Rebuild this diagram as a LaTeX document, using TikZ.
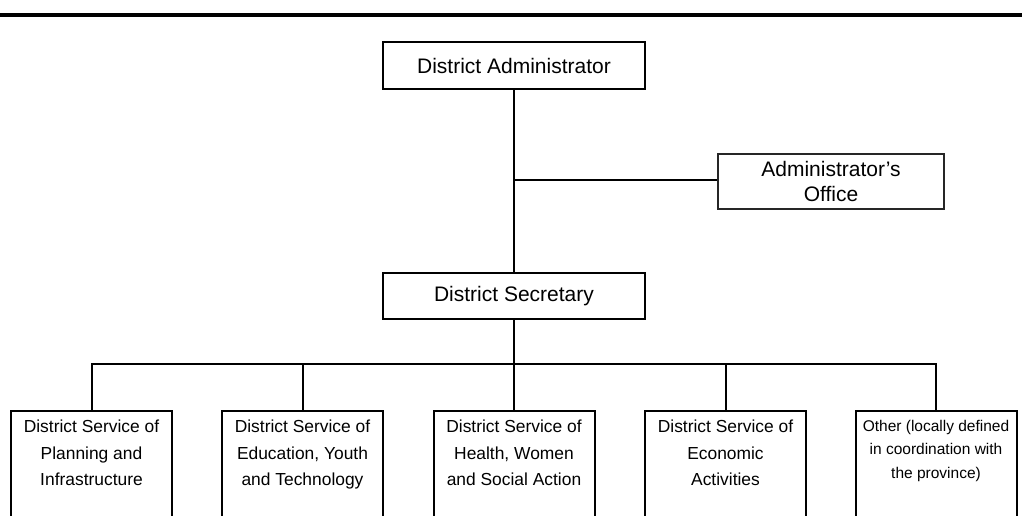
\documentclass[tikz,border=0pt]{standalone}
\usepackage{fontspec}
\setmainfont{Liberation Sans}
\usetikzlibrary{positioning}

\begin{document}
\begin{tikzpicture}
                    [x=1pt, y=-1pt,
                    head/.style={rectangle, draw, line width=2pt,
                        inner sep=0pt,
                        minimum width=262pt,
                        font=\fontsize{21}{25}\selectfont},
                    aside/.style={rectangle, draw=black!85, line width=1.4pt,
                        inner sep=0pt, align=center,
                        minimum width=226pt, minimum height=55pt,
                        font=\fontsize{21}{25}\selectfont},
                    svc/.style={rectangle, draw, line width=2pt,
                        anchor=north, inner xsep=5.5pt, inner ysep=9pt,
                        minimum width=161pt,
                        font=\fontsize{17.4}{26.5}\selectfont},
                    link/.style={line width=2pt}]

                    \useasboundingbox (0,0) rectangle (1022,516);
                    \clip (0,0) rectangle (1022,516);
                    \fill (0,13) rectangle (1022,17);

                    \node[head, minimum height=47pt] (adm) at (514,65.5)
                        {District Administrator};
                    \node[aside] (off) at (831,181.5)
                        {Administrator's\\Office};
                    \node[head, minimum height=46pt] (sec) at (514,296)
                        {District Secretary};

                    \node[svc] (plan) at (91.5,410)
                        {\parbox[t][110pt][t]{150pt}{\centering
                        District Service of\\Planning and\\Infrastructure}};
                    \node[svc] (edu) at (302.5,410)
                        {\parbox[t][110pt][t]{150pt}{\centering
                        District Service of\\Education, Youth\\and Technology}};
                    \node[svc] (hlth) at (514,410)
                        {\parbox[t][110pt][t]{150pt}{\centering
                        District Service of\\Health, Women\\and Social Action}};
                    \node[svc] (econ) at (725.5,410)
                        {\parbox[t][110pt][t]{150pt}{\centering
                        District Service of\\Economic\\Activities}};
                    \node[svc] (oth) at (936,410)
                        {\parbox[t][110pt][t]{150pt}{\centering
                        \fontsize{15.5}{23.5}\selectfont
                        Other (locally defined\\in coordination with\\the province)}};

                    \coordinate (jn) at (514,180);
                    \coordinate (bus) at (514,364);

                    \draw[link] (adm) -- (sec);
                    \draw[link] (jn) -- (jn -| off.west);
                    \draw[link] (sec) -- (hlth);
                    \draw[link] (plan) |- (bus) -| (oth);
                    \draw[link] (edu.north) -- (edu.north |- bus);
                    \draw[link] (econ.north) -- (econ.north |- bus);
                \end{tikzpicture}
\end{document}
